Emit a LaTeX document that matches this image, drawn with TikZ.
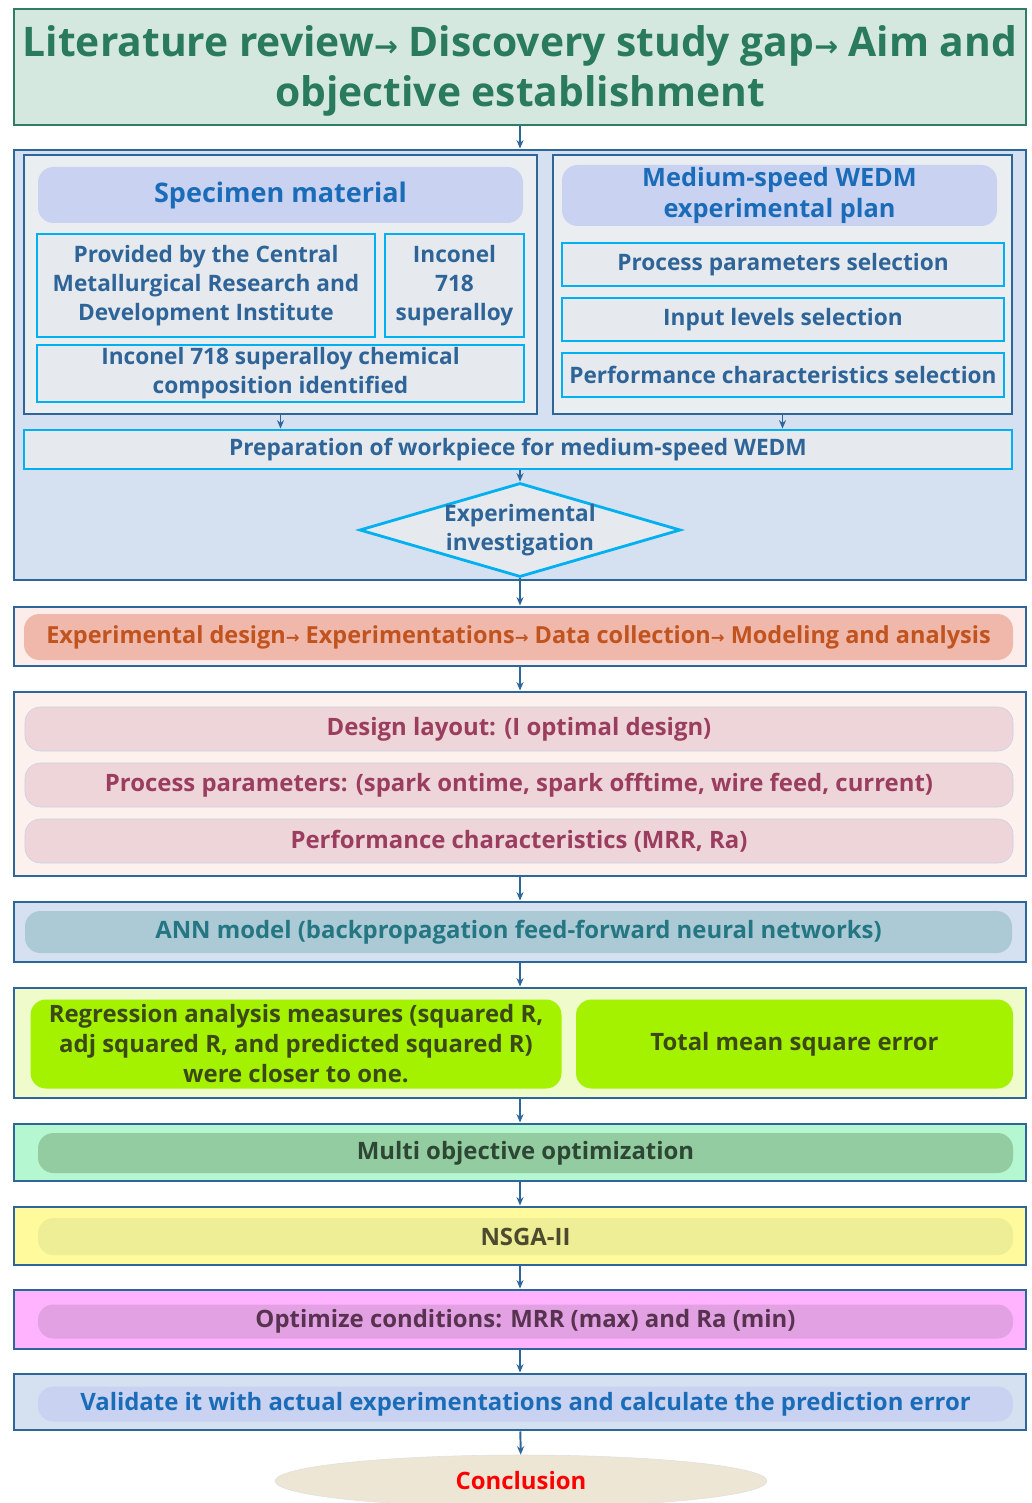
\documentclass[tikz,border=0pt]{standalone}
\usepackage{fontspec}
\usepackage{graphicx}
\setmainfont{Open Sans}
\newfontfamily\arrowfont{DejaVu Sans}
\usetikzlibrary{arrows.meta,shapes.geometric}

\definecolor{frameblue}{HTML}{2F6699}
\definecolor{titlefill}{HTML}{D5E8E0}
\definecolor{titleline}{HTML}{2E7D64}
\definecolor{titletext}{HTML}{2A7A5E}
\definecolor{blockblue}{HTML}{D5E0F0}
\definecolor{panelgray}{HTML}{EBEEF0}
\definecolor{cyanline}{HTML}{00B0F0}
\definecolor{cyanfill}{HTML}{E6EAEE}
\definecolor{cyantext}{HTML}{2E6497}
\definecolor{lavender}{HTML}{C9D2F0}
\definecolor{headtext}{HTML}{1A6CB8}
\definecolor{designfill}{HTML}{FCEDEA}
\definecolor{designpill}{HTML}{EFB8AB}
\definecolor{designtext}{HTML}{C0531E}
\definecolor{layoutfill}{HTML}{FCF1EC}
\definecolor{layoutpill}{HTML}{EDD5DA}
\definecolor{layoutline}{HTML}{C9CFEA}
\definecolor{layouttext}{HTML}{9B3D5E}
\definecolor{annpill}{HTML}{ABCAD6}
\definecolor{anntext}{HTML}{237682}
\definecolor{regfill}{HTML}{EFFBCB}
\definecolor{regpill}{HTML}{A5F200}
\definecolor{regtext}{HTML}{3B4A14}
\definecolor{mooFill}{HTML}{B5F7D0}
\definecolor{moopill}{HTML}{92CCA0}
\definecolor{mootext}{HTML}{2E4634}
\definecolor{nsgafill}{HTML}{FFFB9D}
\definecolor{nsgapill}{HTML}{EEEE96}
\definecolor{nsgatext}{HTML}{4D4A2E}
\definecolor{optfill}{HTML}{FFB3FF}
\definecolor{optpill}{HTML}{E2A1E3}
\definecolor{opttext}{HTML}{573350}
\definecolor{concfill}{HTML}{EDE6D5}

\newcommand\ra{\scalebox{.7}{\arrowfont →}}

\begin{document}
\begin{tikzpicture}[
  x=0.025cm, y=-0.025cm,
  >={Stealth[length=6pt,width=5pt]},
  font=\bfseries,
  wh/.style 2 args={minimum width=#1*0.025cm,minimum height=#2*0.025cm},
  frame/.style={draw=frameblue,line width=2.1pt,inner sep=0pt},
  panel/.style={frame,fill=panelgray},
  cyanbox/.style={draw=cyanline,line width=2pt,fill=cyanfill,text=cyantext,
    align=center,inner sep=0pt,font=\bfseries\fontsize{16.1}{20.6}\selectfont},
  pill/.style={rounded corners=11pt,inner sep=0pt,align=center,
    font=\bfseries\fontsize{17}{21}\selectfont},
  link/.style={->,draw=frameblue,line width=1.4pt}
]
  \useasboundingbox (0,0) rectangle (1031,1503);

  % Starting point of the study
  \node[frame,draw=titleline,fill=titlefill,wh={1012}{116},align=center,
    text=titletext,font=\bfseries\fontsize{29}{35.5}\selectfont]
    (title) at (520,67)
    {\rule{0pt}{27.3pt}Literature review\ra\ Discovery study gap\ra\ Aim and\\objective establishment};

  % Material and plan, then the experiment
  \node[frame,fill=blockblue,wh={1012}{430}] (setup) at (520,365) {};
  \node[panel,wh={513}{259}] (matpanel) at (280.5,284.5) {};
  \node[panel,wh={459}{259}] (planpanel) at (782.5,284.5) {};
  \node[pill,fill=lavender,wh={485}{56},text=headtext,
    font=\bfseries\fontsize{19.2}{24}\selectfont] (specimen) at (280.5,195)
    {Specimen material};
  \node[cyanbox,wh={338}{103}] (provided) at (206,285.5)
    {Provided by the Central\\Metallurgical Research and\\Development Institute};
  \node[cyanbox,wh={139}{103}] (alloy) at (454.5,285.5)
    {Inconel\\718\\superalloy};
  \node[cyanbox,wh={487}{57}] (chem) at (280.5,373.5)
    {Inconel 718 superalloy chemical\\composition identified};
  \node[pill,fill=lavender,wh={435}{61},text=headtext,
    font=\bfseries\fontsize{18}{21.5}\selectfont] (plan) at (779.5,195.5)
    {Medium-speed WEDM\\experimental plan};
  \node[cyanbox,wh={442}{43}] (params) at (783,264.5)
    {Process parameters selection};
  \node[cyanbox,wh={442}{43}] (levels) at (783,319.5)
    {Input levels selection};
  \node[cyanbox,wh={442}{44}] (perfsel) at (783,375)
    {Performance characteristics selection};
  \node[cyanbox,wh={988}{39}] (prep) at (518,449.5)
    {Preparation of workpiece for medium-speed WEDM};
  \node[diamond,draw=cyanline,line width=2pt,fill=cyanfill,inner sep=0pt,
    wh={321}{94}] (invest) at (520,530) {};
  \node[align=center,text=cyantext,font=\bfseries\fontsize{16.1}{20.6}\selectfont]
    at (invest) {Experimental\\investigation};

  % Experimental chain
  \node[frame,fill=designfill,wh={1012}{59}] (chain) at (520,636.5) {};
  \node[pill,fill=designpill,wh={989}{46},text=designtext,
    font=\bfseries\fontsize{16.7}{21}\selectfont] (chainpill) at (518.5,637)
    {Experimental design\ra\ Experimentations\ra\ Data collection\ra\ Modeling and analysis};

  % Design details
  \node[frame,fill=layoutfill,wh={1012}{184}] (design) at (520,784) {};
  \node[pill,fill=layoutpill,draw=layoutline,wh={988}{44},text=layouttext]
    (layout) at (519,729) {Design layout: (I optimal design)};
  \node[pill,fill=layoutpill,draw=layoutline,wh={988}{44},text=layouttext]
    (procpar) at (519,785)
    {Process parameters: (spark ontime, spark offtime, wire feed, current)};
  \node[pill,fill=layoutpill,draw=layoutline,wh={988}{44},text=layouttext]
    (perfchar) at (519,841) {Performance characteristics (MRR, Ra)};

  % ANN model
  \node[frame,fill=blockblue,wh={1012}{60}] (ann) at (520,932) {};
  \node[pill,fill=annpill,wh={987}{42},text=anntext] (annpill) at (518.5,932)
    {ANN model (backpropagation feed-forward neural networks)};

  % Model checks
  \node[frame,fill=regfill,wh={1012}{110}] (checks) at (520,1043) {};
  \node[pill,fill=regpill,wh={531}{89},text=regtext,
    font=\bfseries\fontsize{17}{21.3}\selectfont] (regr) at (296,1044)
    {Regression analysis measures (squared R,\\adj squared R, and predicted squared R)\\were closer to one.};
  \node[pill,fill=regpill,wh={437}{89},text=regtext] (mse) at (794.5,1044)
    {Total mean square error};

  % Optimization
  \node[frame,fill=mooFill,wh={1012}{57}] (moo) at (520,1152.5) {};
  \node[pill,fill=moopill,wh={975}{40},text=mootext] (moopill) at (525.5,1153)
    {Multi objective optimization};
  \node[frame,fill=nsgafill,wh={1012}{58}] (nsga) at (520,1236) {};
  \node[pill,fill=nsgapill,wh={975}{37},text=nsgatext] (nsgapill) at (525.5,1236.5)
    {NSGA-II};
  \node[frame,fill=optfill,wh={1012}{59}] (opt) at (520,1319.5) {};
  \node[pill,fill=optpill,wh={975}{34},text=opttext] (optpill) at (525.5,1321.5)
    {Optimize conditions: MRR (max) and Ra (min)};

  % Validation and end
  \node[frame,fill=blockblue,wh={1012}{56}] (valid) at (520,1402) {};
  \node[pill,fill=lavender,wh={975}{35},text=headtext] (validpill) at (525.5,1404)
    {Validate it with actual experimentations and calculate the prediction error};
  \node[ellipse,fill=concfill,draw=black!12,inner sep=0pt,wh={492}{52},text=red,
    font=\bfseries\fontsize{17}{21}\selectfont] (conc) at (521,1481) {Conclusion};

  % Connectors
  \draw[link] (title) -- (setup);
  \draw[link] (matpanel) -- (matpanel |- prep.north);
  \draw[link] (planpanel) -- (planpanel |- prep.north);
  \draw[link] (prep.south -| invest) -- (invest);
  \draw[link] (invest) -- (chain);
  \draw[link] (chain) -- (design);
  \draw[link] (design) -- (ann);
  \draw[link] (ann) -- (checks);
  \draw[link] (checks) -- (moo);
  \draw[link] (moo) -- (nsga);
  \draw[link] (nsga) -- (opt);
  \draw[link] (opt) -- (valid);
  \draw[link] (valid) -- (conc);
\end{tikzpicture}
\end{document}
